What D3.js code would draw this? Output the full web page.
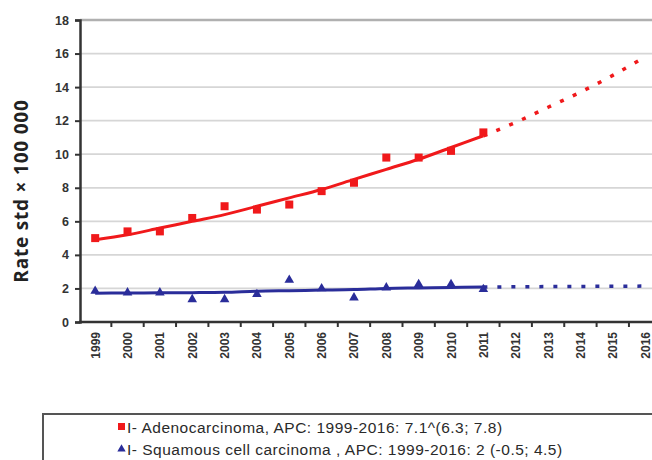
<!DOCTYPE html>
<html><head><meta charset="utf-8">
<script src="https://cdn.jsdelivr.net/npm/d3@7"></script>
<style>html,body{margin:0;padding:0;background:#fff;}svg{display:block;}</style>
</head><body>
<div id="chart"></div>
<script>
const years = [1999,2000,2001,2002,2003,2004,2005,2006,2007,2008,2009,2010,2011,2012,2013,2014,2015,2016];
const observedYears = [1999,2000,2001,2002,2003,2004,2005,2006,2007,2008,2009,2010,2011];
const adenoObserved = [5.0,5.4,5.4,6.2,6.9,6.7,7.0,7.8,8.3,9.8,9.8,10.2,11.3];
const squamObserved = [1.85,1.75,1.75,1.35,1.35,1.65,2.5,2.0,1.45,2.05,2.25,2.25,1.95];
const adenoTrend = [4.9,5.2,5.6,6.0,6.4,6.9,7.4,7.9,8.5,9.1,9.7,10.4,11.1,11.9,12.8,13.7,14.7,15.8];
const squamTrend = [1.72,1.73,1.74,1.75,1.77,1.84,1.87,1.9,1.93,2.0,2.03,2.06,2.08,2.1,2.11,2.12,2.13,2.14];
const yTicks = [0,2,4,6,8,10,12,14,16,18];
const yLabel = "Rate std × 100 000";
const legendLabels = ["I- Adenocarcinoma, APC: 1999-2016: 7.1^(6.3; 7.8)", "I- Squamous cell carcinoma , APC: 1999-2016: 2 (-0.5; 4.5)"];
const lastObservedYear = 2011;

const W = 652, H = 460;
const svg = d3.select("#chart").append("svg").attr("width", W).attr("height", H);

const step = 32.35;
const x = d3.scaleBand().domain(years).range([79, 79 + step * years.length]).padding(0);
const cx = d => x(d) + x.bandwidth() / 2;
const y = d3.scaleLinear().domain([0, 18]).range([322, 20]);

// gridlines
svg.append("g").selectAll("line").data(yTicks.filter(t => t > 0)).join("line")
  .attr("x1", 80).attr("x2", W)
  .attr("y1", d => y(d)).attr("y2", d => y(d))
  .attr("stroke", d => d === 18 ? "#b0b0b0" : "#d6d6d6")
  .attr("stroke-width", d => d === 18 ? 2.5 : 1.8);

// y axis
const yAxis = svg.append("g").attr("transform", "translate(80,0)")
  .call(d3.axisLeft(y).tickValues(yTicks).tickSize(5).tickPadding(6));
yAxis.select(".domain").attr("stroke", "#333").attr("stroke-width", 2.5);
yAxis.selectAll(".tick line").attr("stroke", "#333").attr("stroke-width", 2);
yAxis.selectAll(".tick text").attr("font-family", "Liberation Sans, Arial, sans-serif")
  .attr("font-size", 12.5).attr("font-weight", "bold").attr("fill", "#333");

// x axis
const xg = svg.append("g");
xg.append("line").attr("x1", 79).attr("x2", W).attr("y1", y(0)).attr("y2", y(0))
  .attr("stroke", "#333").attr("stroke-width", 2.5);
xg.selectAll("line.tk").data(years).join("line").attr("class", "tk")
  .attr("x1", d => x(d) + x.bandwidth()).attr("x2", d => x(d) + x.bandwidth())
  .attr("y1", y(0)).attr("y2", y(0) + 5).attr("stroke", "#333").attr("stroke-width", 2);
xg.selectAll("text").data(years).join("text")
  .attr("transform", d => `translate(${cx(d) + 4.5},${y(0) + 10}) rotate(-90)`)
  .attr("text-anchor", "end")
  .attr("font-family", "Liberation Sans, Arial, sans-serif")
  .attr("font-size", 12).attr("font-weight", "bold").attr("fill", "#333")
  .text(d => d);

// y label
svg.append("text").attr("transform", `translate(28,${(y(0) + y(18)) / 2 + 20}) rotate(-90)`)
  .attr("text-anchor", "middle")
  .attr("font-family", "Open Sans, Liberation Sans, Arial, sans-serif")
  .attr("font-size", 19).attr("font-weight", "bold").attr("fill", "#222")
  .attr("letter-spacing", 0.8)
  .text(yLabel);

const line = d3.line().x(d => cx(d[0])).y(d => y(d[1]));
function trend(vals, color) {
  const pts = years.map((yr, i) => [yr, vals[i]]);
  const solid = pts.filter(p => p[0] <= lastObservedYear);
  const dotted = pts.filter(p => p[0] >= lastObservedYear);
  svg.append("path").attr("d", line.curve(d3.curveMonotoneX)(solid)).attr("fill", "none")
    .attr("stroke", color).attr("stroke-width", 3);
  svg.append("path").attr("d", line.curve(d3.curveMonotoneX)(dotted)).attr("fill", "none")
    .attr("stroke", color).attr("stroke-width", 3.5).attr("stroke-dasharray", "4,10");
}
const red = "#f0191b", blue = "#2a2d9a";
trend(adenoTrend, red);
trend(squamTrend, blue);

// markers
svg.append("g").selectAll("rect").data(observedYears.map((yr, i) => [yr, adenoObserved[i]])).join("rect")
  .attr("x", d => cx(d[0]) - 4).attr("y", d => y(d[1]) - 4).attr("width", 8).attr("height", 8)
  .attr("fill", red);
const tri = d3.symbol().type(d3.symbolTriangle).size(40);
svg.append("g").selectAll("path").data(observedYears.map((yr, i) => [yr, squamObserved[i]])).join("path")
  .attr("transform", d => `translate(${cx(d[0])},${y(d[1])})`)
  .attr("d", tri).attr("fill", blue);

// legend
svg.append("rect").attr("x", 43).attr("y", 414).attr("width", 700).attr("height", 100)
  .attr("fill", "#fff").attr("stroke", "#555").attr("stroke-width", 2);
const lg = svg.append("g");
const rows = [{y: 427, color: red, shape: "sq"}, {y: 449, color: blue, shape: "tri"}];
rows.forEach((r, i) => {
  if (r.shape === "sq") {
    lg.append("rect").attr("x", 118).attr("y", r.y - 4).attr("width", 7).attr("height", 7).attr("fill", r.color);
  } else {
    lg.append("path").attr("transform", `translate(121.5,${r.y})`).attr("d", d3.symbol().type(d3.symbolTriangle).size(30)).attr("fill", r.color);
  }
  lg.append("text").attr("x", 127).attr("y", r.y + 5.5)
    .attr("font-family", "Liberation Sans, Arial, sans-serif")
    .attr("font-size", 15.5).attr("letter-spacing", 0.5).attr("fill", "#2a2a2a")
    .text(legendLabels[i]);
});
</script>
</body></html>
